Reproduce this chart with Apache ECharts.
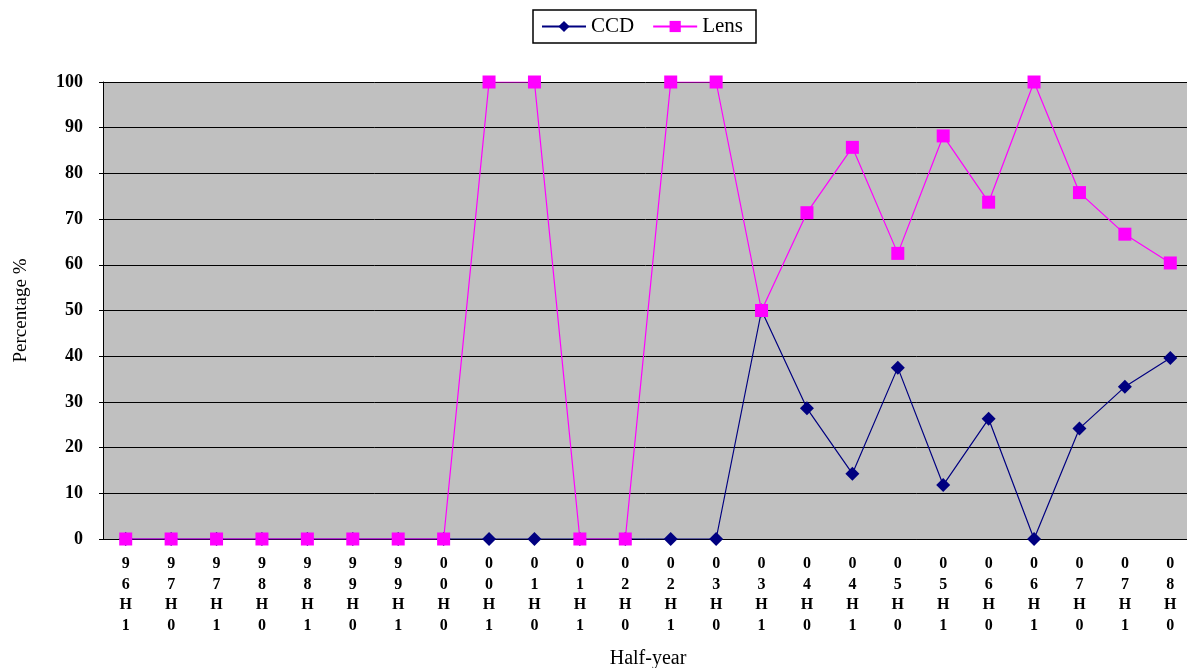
<!DOCTYPE html>
<html>
<head>
<meta charset="utf-8">
<script src="https://cdn.jsdelivr.net/npm/echarts@6/dist/echarts.min.js"></script>
<style>
  html, body { margin: 0; padding: 0; background: #fff; }
  #chart1 { width: 1187px; height: 668px; }
</style>
</head>
<body>
<div id="chart1"></div>
<script>
// half-year categories
var halfYears = ['96H1', '97H0', '97H1', '98H0', '98H1', '99H0', '99H1', '00H0',
    '00H1', '01H0', '01H1', '02H0', '02H1', '03H0', '03H1', '04H0', '04H1',
    '05H0', '05H1', '06H0', '06H1', '07H0', '07H1', '08H0'];
// percentage values
var ccdValues = [0, 0, 0, 0, 0, 0, 0, 0, 0, 0, 0, 0, 0, 0,
    50, 28.6, 14.3, 37.5, 11.8, 26.3, 0, 24.2, 33.3, 39.6];
var lensValues = [0, 0, 0, 0, 0, 0, 0, 0, 100, 100, 0, 0, 100, 100,
    50, 71.4, 85.7, 62.5, 88.2, 73.7, 100, 75.8, 66.7, 60.4];
var yTicks = [0, 10, 20, 30, 40, 50, 60, 70, 80, 90, 100];

var serif = '"Liberation Serif", "DejaVu Serif", serif';
var myChart = echarts.init(document.getElementById('chart1'));
var option = {
    animation: false,
    backgroundColor: '#ffffff',
    legend: {
        top: 10,
        left: 533,
        data: ['CCD', 'Lens'],
        borderColor: '#000',
        borderWidth: 1.5,
        padding: [6, 13, 6, 8],
        itemGap: 18,
        itemWidth: 44,
        itemHeight: 14,
        textStyle: { fontFamily: serif, fontSize: 21, color: '#000' }
    },
    grid: { left: 103, top: 82, width: 1090, height: 457, outerBoundsMode: 'none', containLabel: false },
    xAxis: {
        type: 'category',
        data: halfYears,
        name: 'Half-year',
        nameLocation: 'middle',
        nameGap: 110,
        nameTextStyle: { fontFamily: serif, fontSize: 20, color: '#000' },
        axisLine: { lineStyle: { color: '#000', width: 1 } },
        axisTick: { inside: true, length: 5, lineStyle: { color: '#000' } },
        axisLabel: {
            margin: 15,
            interval: 0,
            fontFamily: serif,
            fontWeight: 'bold',
            fontSize: 16,
            lineHeight: 20.5,
            color: '#000',
            formatter: function (v) { return v.split('').join('\n'); }
        }
    },
    yAxis: {
        type: 'value',
        min: 0,
        max: 100,
        interval: 10,
        name: 'Percentage %',
        nameLocation: 'middle',
        nameGap: 72,
        nameTextStyle: { fontFamily: serif, fontSize: 19, color: '#000' },
        axisLine: { show: true, lineStyle: { color: '#000', width: 1 } },
        axisTick: { show: true, length: 4, lineStyle: { color: '#000' } },
        axisLabel: {
            margin: 20,
            fontFamily: serif,
            fontWeight: 'bold',
            fontSize: 18,
            color: '#000',
            formatter: function (v) { return yTicks.indexOf(v) >= 0 ? String(v) : ''; }
        },
        splitLine: { show: true, lineStyle: { color: '#000', width: 1 } },
        splitArea: { show: true, areaStyle: { color: ['#c0c0c0', '#c0c0c0'] } }
    },
    series: [
        {
            name: 'CCD',
            type: 'line',
            data: ccdValues,
            symbol: 'diamond',
            symbolSize: 14,
            z: 2,
            lineStyle: { color: '#000080', width: 1.2 },
            itemStyle: { color: '#000080' }
        },
        {
            name: 'Lens',
            type: 'line',
            data: lensValues,
            symbol: 'rect',
            symbolSize: 13,
            z: 3,
            lineStyle: { color: '#ff00ff', width: 1.2 },
            itemStyle: { color: '#ff00ff' }
        }
    ]
};
option && myChart.setOption(option);
</script>
</body>
</html>
